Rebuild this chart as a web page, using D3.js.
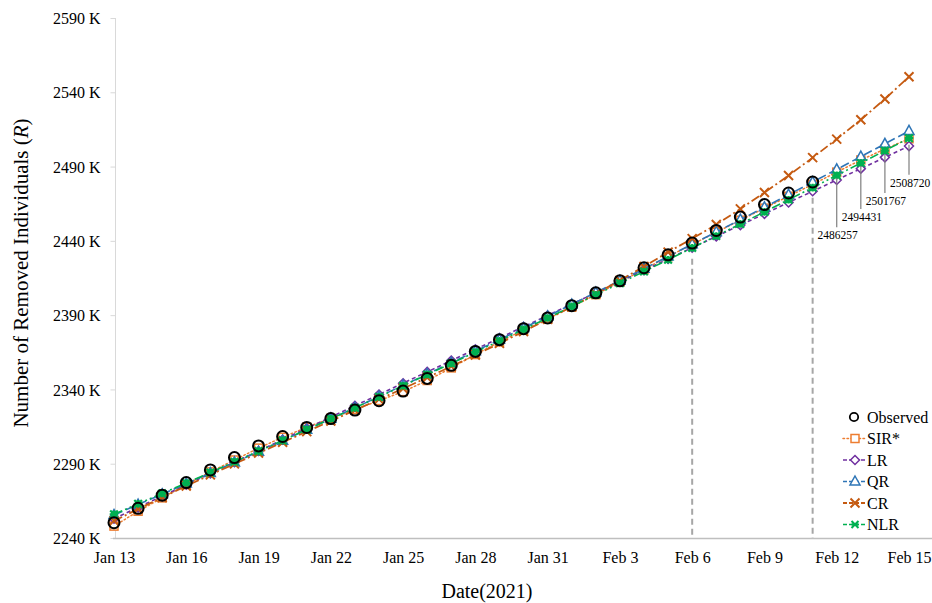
<!DOCTYPE html>
<html>
<head>
<meta charset="utf-8">
<script src="https://cdn.jsdelivr.net/npm/d3@7"></script>
<style>
  html, body { margin: 0; padding: 0; background: #fff; }
  svg { display: block; font-family: "Liberation Serif", "Times New Roman", serif; }
</style>
</head>
<body>
<svg id="chart" width="932" height="603"></svg>
<script>
// ---------------- DATA ----------------
const startDate = new Date(2021, 0, 13);   // Jan 13, 2021
const dayCount = 34;                         // Jan 13 .. Feb 15
const dates = d3.range(dayCount).map(i => d3.timeDay.offset(startDate, i));

// Observed removed individuals (thousands), Jan 13 .. Feb 11
const observed = [2250.3, 2260.0, 2268.8, 2277.3, 2285.8, 2294.1, 2302.0, 2308.3, 2314.4, 2320.4,
                  2326.1, 2332.4, 2338.9, 2347.4, 2356.2, 2365.6, 2373.5, 2380.9, 2388.1, 2396.4,
                  2405.0, 2413.1, 2421.9, 2430.6, 2438.5, 2447.0, 2456.0, 2464.4, 2472.2, 2479.6];

// Model estimates (thousands), Jan 13 .. Feb 15
const sirStar = [2248.0, 2258.0, 2267.0, 2276.0, 2284.5, 2292.5, 2300.5, 2307.8, 2314.5, 2320.5,
                 2326.5, 2332.5, 2338.5, 2346.0, 2354.5, 2363.5, 2372.0, 2380.0, 2387.5, 2395.5,
                 2403.8, 2412.3, 2420.8, 2429.4, 2437.6, 2445.8, 2453.9, 2462.0, 2470.0, 2478.0,
                 2486.257, 2494.431, 2501.767, 2508.720];
const lr = [2253.0, 2260.6, 2268.2, 2275.8, 2283.4, 2291.0, 2298.6, 2306.2, 2313.8, 2321.4,
            2329.0, 2336.6, 2344.2, 2351.8, 2359.4, 2367.0, 2374.6, 2382.2, 2389.8, 2397.4,
            2405.0, 2412.6, 2420.2, 2427.8, 2435.4, 2443.0, 2450.6, 2458.2, 2465.8, 2473.4,
            2481.0, 2488.6, 2496.2, 2503.8];
const qr = [2255.5, 2262.5, 2269.5, 2276.6, 2283.7, 2290.9, 2298.1, 2305.4, 2312.8, 2320.2,
            2327.6, 2335.2, 2342.7, 2350.3, 2358.0, 2365.7, 2373.5, 2381.3, 2389.2, 2397.2,
            2405.2, 2413.2, 2421.3, 2429.5, 2437.7, 2446.0, 2454.3, 2462.6, 2471.1, 2479.6,
            2488.1, 2496.7, 2505.3, 2514.0];
const cr = [2251.5, 2259.5, 2267.3, 2275.0, 2282.5, 2289.9, 2297.2, 2304.4, 2311.6, 2318.8,
            2326.0, 2333.3, 2340.6, 2348.0, 2355.5, 2363.2, 2371.0, 2379.0, 2387.2, 2395.7,
            2404.4, 2413.4, 2422.7, 2432.4, 2441.5, 2451.0, 2461.5, 2472.5, 2484.0, 2496.0,
            2508.5, 2521.5, 2535.5, 2550.5];
const nlr = [2256.0, 2263.0, 2270.0, 2277.0, 2284.1, 2291.3, 2298.5, 2305.7, 2313.0, 2320.3,
             2327.6, 2335.0, 2342.5, 2350.0, 2357.5, 2365.1, 2372.7, 2380.4, 2388.1, 2395.9,
             2403.7, 2411.5, 2419.4, 2427.3, 2435.3, 2443.3, 2451.4, 2459.5, 2467.7, 2475.8,
             2484.1, 2492.4, 2500.7, 2509.1];

const seriesNames = ["Observed", "SIR*", "LR", "QR", "CR", "NLR"];
const yTicks = [2240, 2290, 2340, 2390, 2440, 2490, 2540, 2590];

// Annotated SIR* predictions (Feb 12 .. Feb 15)
const annDates = [new Date(2021, 1, 12), new Date(2021, 1, 13), new Date(2021, 1, 14), new Date(2021, 1, 15)];
const annValues = [2486257, 2494431, 2501767, 2508720];

// Vertical reference lines (date, top value in K)
const refDates = [new Date(2021, 1, 6), new Date(2021, 1, 11)];
const refTops = [2428, 2469];

// ---------------- LAYOUT ----------------
const svg = d3.select("#chart");
const x = d3.scaleTime()
  .domain([startDate, d3.timeDay.offset(startDate, dayCount - 1)])
  .range([114, 909]);
const y = d3.scaleLinear().domain([2240, 2590]).range([538, 18]);

const styles = {
  "SIR*": { color: "#ED7D31", dash: "1.5,2.5", width: 1.5, marker: "square" },
  "LR":   { color: "#7030A0", dash: "4,3",      width: 1.6, marker: "diamond" },
  "QR":   { color: "#2E75B6", dash: "9,4",      width: 1.6, marker: "triangle" },
  "CR":   { color: "#C55A11", dash: "9,3,2,3",  width: 1.8, marker: "x" },
  "NLR":  { color: "#00B050", dash: "9,3,2,3,2,3", width: 1.6, marker: "star" }
};
const modelData = { "SIR*": sirStar, "LR": lr, "QR": qr, "CR": cr, "NLR": nlr };

// ---------------- AXES ----------------
svg.append("line").attr("x1", 115.5).attr("x2", 115.5).attr("y1", 18).attr("y2", 538)
  .attr("stroke", "#d9d9d9").attr("stroke-width", 1);
const yAxis = d3.axisLeft(y).tickValues(yTicks).tickSize(5).tickFormat(d => d + " K");
const gy = svg.append("g").attr("transform", "translate(115.5,0)").call(yAxis);
gy.select(".domain").remove();
gy.selectAll(".tick line").attr("stroke", "#d9d9d9");
gy.selectAll(".tick text").attr("font-size", 16).attr("font-family", "Liberation Serif")
  .attr("fill", "#000").attr("x", -15).attr("dy", "0.35em");

const xAxis = d3.axisBottom(x)
  .tickValues(d3.range(0, dayCount, 3).map(i => dates[i]))
  .tickSize(0)
  .tickFormat(d3.timeFormat("%b %-d"));
const gx = svg.append("g").attr("transform", "translate(0,538)").call(xAxis);
gx.select(".domain").remove();
svg.append("line").attr("x1", 113).attr("x2", 932).attr("y1", 538.5).attr("y2", 538.5)
  .attr("stroke", "#bfbfbf").attr("stroke-width", 1.5);
gx.selectAll(".tick text").attr("font-size", 16).attr("font-family", "Liberation Serif")
  .attr("fill", "#000").attr("y", 14).attr("dy", "0.71em");

// axis titles
svg.append("text").attr("x", 487).attr("y", 598).attr("text-anchor", "middle")
  .attr("font-size", 20).attr("fill", "#000").text("Date(2021)");
const yt = svg.append("text")
  .attr("transform", "translate(28,273) rotate(-90)")
  .attr("text-anchor", "middle").attr("font-size", 21).attr("fill", "#000");
yt.append("tspan").text("Number of Removed Individuals (");
yt.append("tspan").attr("font-style", "italic").text("R");
yt.append("tspan").text(")");

// ---------------- REFERENCE LINES ----------------
refDates.forEach((d, i) => {
  svg.append("line").attr("x1", x(d)).attr("x2", x(d))
    .attr("y1", y(refTops[i])).attr("y2", 538)
    .attr("stroke", "#a6a6a6").attr("stroke-width", 2).attr("stroke-dasharray", "6,4");
});

// ---------------- MARKERS ----------------
function drawMarker(g, type, cx, cy, color) {
  if (type === "circle") {
    g.append("circle").attr("cx", cx).attr("cy", cy).attr("r", 5.5)
      .attr("fill", "none").attr("stroke", "#000").attr("stroke-width", 2);
  } else if (type === "square") {
    g.append("rect").attr("x", cx - 4).attr("y", cy - 4).attr("width", 8).attr("height", 8)
      .attr("fill", "#fff").attr("stroke", color).attr("stroke-width", 1.5);
  } else if (type === "diamond") {
    g.append("path").attr("d", `M${cx},${cy - 4.5}L${cx + 4.5},${cy}L${cx},${cy + 4.5}L${cx - 4.5},${cy}Z`)
      .attr("fill", "#fff").attr("stroke", color).attr("stroke-width", 1.5);
  } else if (type === "triangle") {
    g.append("path").attr("d", `M${cx},${cy - 5.5}L${cx + 5},${cy + 3.5}L${cx - 5},${cy + 3.5}Z`)
      .attr("fill", "#fff").attr("stroke", color).attr("stroke-width", 1.5);
  } else if (type === "x") {
    const s = 4.5;
    g.append("path").attr("d", `M${cx - s},${cy - s}L${cx + s},${cy + s}M${cx - s},${cy + s}L${cx + s},${cy - s}`)
      .attr("fill", "none").attr("stroke", color).attr("stroke-width", 2);
  } else if (type === "star") {
    const s = 3.8;
    g.append("circle").attr("cx", cx).attr("cy", cy).attr("r", 3.2).attr("fill", color);
    g.append("path").attr("d", `M${cx - s},${cy - s}L${cx + s},${cy + s}M${cx - s},${cy + s}L${cx + s},${cy - s}M${cx - s - 0.5},${cy}L${cx + s + 0.5},${cy}M${cx},${cy - s}L${cx},${cy + s}`)
      .attr("fill", "none").attr("stroke", color).attr("stroke-width", 2.2);
  }
}

// models in legend order
Object.keys(modelData).forEach(name => {
  const st = styles[name];
  const vals = modelData[name];
  const g = svg.append("g");
  const line = d3.line().x((d, i) => x(dates[i])).y(d => y(d));
  g.append("path").datum(vals).attr("d", line)
    .attr("fill", "none").attr("stroke", st.color).attr("stroke-width", st.width)
    .attr("stroke-dasharray", st.dash).attr("stroke-linecap", name === "SIR*" ? "round" : "butt");
  vals.forEach((v, i) => drawMarker(g, st.marker, x(dates[i]), y(v), st.color));
});

// observed circles on top (unfilled)
const gObs = svg.append("g");
observed.forEach((v, i) => drawMarker(gObs, "circle", x(dates[i]), y(v), "#000"));

// ---------------- ANNOTATIONS ----------------
const annLineLen = [55, 49, 44, 36];
annDates.forEach((d, i) => {
  const px = x(d), py = y(annValues[i] / 1000);
  svg.append("line").attr("x1", px).attr("x2", px).attr("y1", py + 6).attr("y2", py + annLineLen[i])
    .attr("stroke", "#7f7f7f").attr("stroke-width", 1.2);
  svg.append("text").attr("x", px + 1).attr("y", py + annLineLen[i] + 12)
    .attr("text-anchor", "middle").attr("font-size", 11.5).attr("fill", "#000")
    .text(annValues[i]);
});

// ---------------- LEGEND ----------------
const lg = svg.append("g");
seriesNames.forEach((name, i) => {
  const ly = 417 + i * 21.5;
  if (name === "Observed") {
    lg.append("circle").attr("cx", 854).attr("cy", ly).attr("r", 4.2)
      .attr("fill", "#fff").attr("stroke", "#000").attr("stroke-width", 1.8);
  } else {
    const st = styles[name];
    lg.append("line").attr("x1", 843).attr("x2", 867).attr("y1", ly).attr("y2", ly)
      .attr("stroke", st.color).attr("stroke-width", st.width)
      .attr("stroke-dasharray", name === "SIR*" ? "1.5,2.5" : "4,2")
      .attr("stroke-linecap", name === "SIR*" ? "round" : "butt");
    if (name === "NLR") {
      const s = 3.5;
      lg.append("path").attr("d", `M${855 - s},${ly - s}L${855 + s},${ly + s}M${855 - s},${ly + s}L${855 + s},${ly - s}M${855 - s},${ly}L${855 + s},${ly}`)
        .attr("fill", "none").attr("stroke", st.color).attr("stroke-width", 2);
    } else {
      drawMarker(lg, st.marker, 855, ly, st.color);
    }
  }
  lg.append("text").attr("x", 867).attr("y", ly).attr("dy", "0.35em")
    .attr("font-size", 16).attr("fill", "#000").text(name);
});
</script>
</body>
</html>
